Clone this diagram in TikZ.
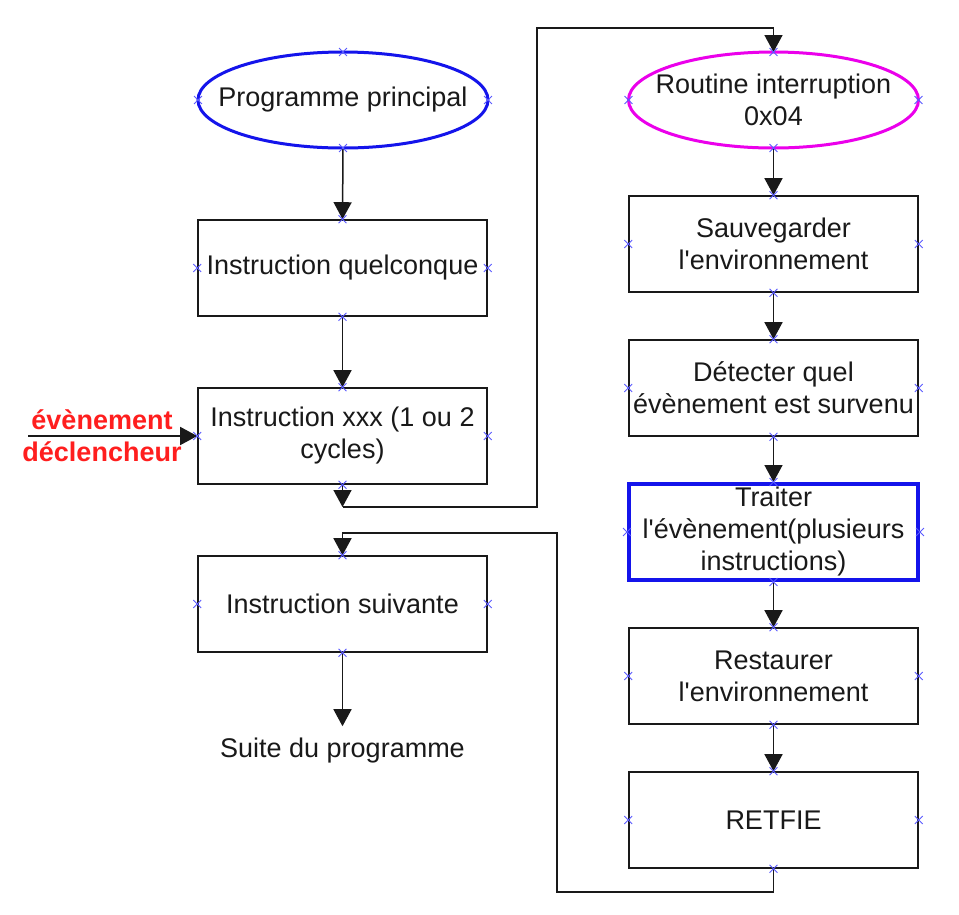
\documentclass[tikz,border=0pt]{standalone}
\usepackage{fontspec}
\setmainfont{Liberation Sans}
\usetikzlibrary{arrows.meta,shapes.geometric,shapes.misc}
\definecolor{pblue}{RGB}{20,20,235}
\definecolor{pmag}{RGB}{235,0,235}
\definecolor{xblue}{RGB}{90,90,255}
\definecolor{pred}{RGB}{255,30,30}
\definecolor{ink}{RGB}{25,25,25}
\begin{document}
\begin{tikzpicture}[x=1pt,y=-1pt,
  font=\fontsize{27}{32}\selectfont,
  txt/.style={text=ink, align=center},
  boxnode/.style={draw=ink, line width=1.6pt, minimum width=289pt, minimum height=96pt, inner sep=0pt, align=center, text=ink},
  ovalnode/.style={rectangle, minimum width=290pt, minimum height=96pt, inner sep=0pt, outer sep=0pt, align=center, text=ink},
  ovalline/.style={line width=3pt},
  arr/.style={draw=ink, line width=1.5pt, -{Triangle[width=18pt,length=17pt]}},
  lin/.style={draw=ink, line width=1.5pt},
  xmark/.style={cross out, draw=xblue, line width=0.9pt, minimum size=7pt, inner sep=0pt}
]
\fill[white] (0,0) rectangle (959,914);
\useasboundingbox (0,0) rectangle (959,914);

% left column
\node[ovalnode] (e1) at (343,100) {Programme principal};
\draw[ovalline, draw=pblue] (e1.center) ellipse [x radius=145, y radius=48];
\node[boxnode] (b1) at (342.5,268) {Instruction quelconque};
\node[boxnode] (b2) at (342.5,436) {Instruction xxx (1 ou 2\\cycles)};
\node[boxnode] (b3) at (342.5,604) {Instruction suivante};
\node[txt, inner sep=12pt] (suite) at (342.5,751) {Suite du programme};

% trigger
\node[text=pred, font=\bfseries\fontsize{27}{32}\selectfont, align=center] (trig) at (102,436) {évènement\\déclencheur};
\coordinate (tstart) at (28,436);

% right column
\node[ovalnode] (e2) at (773.5,100) {Routine interruption\\0x04};
\draw[ovalline, draw=pmag] (e2.center) ellipse [x radius=145, y radius=48];
\node[boxnode] (r1) at (773.5,244) {Sauvegarder\\l\textquotesingle environnement};
\node[boxnode] (r2) at (773.5,388) {Détecter quel\\évènement est survenu};
\node[boxnode, draw=pblue, line width=4pt] (r3) at (773.5,532) {Traiter\\l\textquotesingle évènement(plusieurs\\instructions)};
\node[boxnode] (r4) at (773.5,676) {Restaurer\\l\textquotesingle environnement};
\node[boxnode] (r5) at (773.5,820) {RETFIE};

% bend points
\coordinate (c1) at (342.5,507);
\coordinate (c2) at (537,28);
\coordinate (c3) at (557,892);
\coordinate (c4) at (557,533);

% connectors
\draw[arr] (e1.south) -- (b1.north);
\draw[arr] (b1.south) -- (b2.north);
\draw[arr] (tstart) -- (b2.west);
\draw[arr] (b2.south) -- (c1);
\draw[arr] (c1) -| (c2) -| (e2.north);
\draw[arr] (e2.south) -- (r1.north);
\draw[arr] (r1.south) -- (r2.north);
\draw[arr] (r2.south) -- (r3.north);
\draw[arr] (r3.south) -- (r4.north);
\draw[arr] (r4.south) -- (r5.north);
\draw[arr] (r5.south) |- (c3) -- (c4) -| (b3.north);
\draw[arr] (b3.south) -- (suite.north);

% connection point marks
\foreach \n in {e1,b1,b2,b3,e2,r1,r2,r3,r4,r5}
  \foreach \a in {north,south,east,west}
    \node[xmark] at (\n.\a) {};
\end{tikzpicture}
\end{document}
